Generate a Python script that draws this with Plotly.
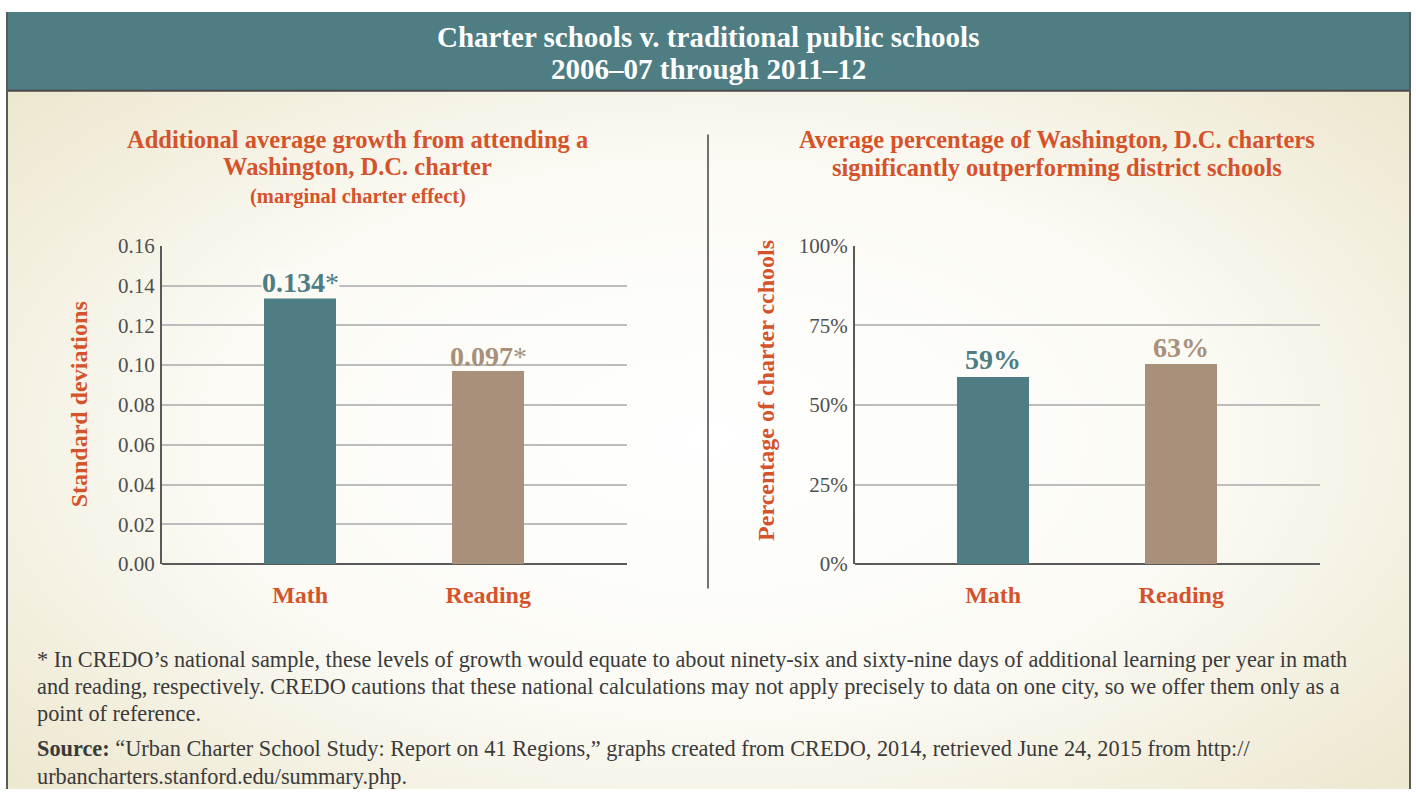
import base64
import plotly.graph_objects as go
from plotly.subplots import make_subplots

# ---- data ----
categories = ["Math", "Reading"]
growth_sd = [0.134, 0.097]            # marginal charter effect, standard deviations
growth_labels = ["0.134", "0.097"]
pct_outperforming = [59, 63]           # % of charters significantly outperforming
pct_labels = ["59%", "63%"]
sd_ticks = [0.00, 0.02, 0.04, 0.06, 0.08, 0.10, 0.12, 0.14, 0.16]
pct_ticks = [0, 25, 50, 75, 100]

# ---- style ----
W, H = 1416, 801
TEAL = "#4E7D84"
TAN = "#A8907A"
ORANGE = "#D5532B"
GRID = "#BDBDBD"
AXIS = "#5A5A5A"
TICK = "#4F4F4F"
TEXT = "#3A3A3A"
SERIF = "Liberation Serif, Times New Roman, serif"
LABEL_BG = "#FBFAF5"
bar_colors = [TEAL, TAN]

# vertical placement helper: layout positions are given in page pixels and
# converted to paper fractions (with a small correction for the page's
# vertical offset/scale when displayed)
Y_SCALE, Y_OFF = 0.9743, 10.95


def px_x(x):
    return x / W


def px_y(y):
    return 1 - ((y - Y_OFF) / Y_SCALE) / H


PLOT_TOP, PLOT_BOT = 245.7, 565.5

fig = make_subplots(rows=1, cols=2)

fig.add_trace(go.Bar(x=categories, y=growth_sd, marker=dict(color=bar_colors, line=dict(width=0)),
                     width=0.383, hoverinfo="skip"), row=1, col=1)
fig.add_trace(go.Bar(x=categories, y=pct_outperforming, marker=dict(color=bar_colors, line=dict(width=0)),
                     width=0.383, hoverinfo="skip"), row=1, col=2)

cat_range = [-0.735, 1.738]
common_x = dict(range=cat_range, showgrid=False, showline=False, ticks="",
                tickfont=dict(family=SERIF, size=24, color=ORANGE, weight="bold"),
                ticklabelstandoff=14, zeroline=False, fixedrange=True)
common_y = dict(showgrid=True, gridcolor=GRID, gridwidth=2, showline=True, linecolor=AXIS,
                linewidth=2, ticks="", tickfont=dict(family=SERIF, size=21, color=TICK),
                ticklabelstandoff=1, zeroline=True, zerolinecolor=AXIS, zerolinewidth=2,
                fixedrange=True)

fig.update_layout(
    xaxis=dict(domain=[px_x(162), px_x(627)], **common_x),
    xaxis2=dict(domain=[px_x(855), px_x(1320)], **common_x),
    yaxis=dict(domain=[px_y(PLOT_BOT), px_y(PLOT_TOP)], range=[0, 0.16], tickvals=sd_ticks,
               ticktext=[f"{v:.2f}" for v in sd_ticks], **common_y),
    yaxis2=dict(domain=[px_y(PLOT_BOT), px_y(PLOT_TOP)], range=[0, 100], tickvals=pct_ticks,
                ticktext=[f"{v}%" for v in pct_ticks], **common_y),
)

# ---- background: soft radial cream gradient ----
svg = f"""<svg xmlns='http://www.w3.org/2000/svg' width='{W}' height='{H}'>
<defs><radialGradient id='g' cx='50%' cy='55%' r='65%'>
<stop offset='0%' stop-color='#FFFFFF'/>
<stop offset='55%' stop-color='#FBFAF4'/>
<stop offset='100%' stop-color='#EDE8D0'/>
</radialGradient></defs>
<rect x='0' y='0' width='{W}' height='{H}' fill='url(#g)'/>
<rect x='0' y='0' width='7' height='{H}' fill='white'/>
<rect x='1410' y='0' width='6' height='{H}' fill='white'/>
</svg>"""
src = "data:image/svg+xml;base64," + base64.b64encode(svg.encode()).decode()
fig.add_layout_image(dict(source=src, xref="paper", yref="paper", x=0, y=1, sizex=1, sizey=1,
                          xanchor="left", yanchor="top", sizing="stretch", layer="below"))

shapes = []
# header band
shapes.append(dict(type="rect", xref="paper", yref="paper", x0=px_x(7), x1=px_x(1410),
                   y0=px_y(90), y1=1.0, fillcolor=TEAL, line=dict(width=0), layer="below"))
shapes.append(dict(type="line", xref="paper", yref="paper", x0=px_x(7), x1=px_x(1410),
                   y0=px_y(90), y1=px_y(90), line=dict(color="#4A4A4A", width=2)))
# outer frame (left and right edges)
for xe in (7, 1410):
    shapes.append(dict(type="line", xref="paper", yref="paper", x0=px_x(xe), x1=px_x(xe),
                       y0=0, y1=1, line=dict(color="#5A5A5A", width=2)))
# divider between panels
shapes.append(dict(type="line", xref="paper", yref="paper", x0=px_x(708), x1=px_x(708),
                   y0=px_y(590), y1=px_y(134), line=dict(color="#444444", width=1.5)))
fig.update_layout(shapes=shapes)

ann = []


def text(x, y, s, size, color=TEXT, bold=False, xanchor="center", **kw):
    ann.append(dict(x=px_x(x), y=px_y(y), xref="paper", yref="paper", text=s, showarrow=False,
                    xanchor=xanchor, yanchor="middle",
                    font=dict(family=SERIF, size=size, color=color, weight="bold" if bold else "normal"),
                    **kw))


# header
text(708, 36, "Charter schools v. traditional public schools", 29, "white", True)
text(708, 68, "2006–07 through 2011–12", 29, "white", True)

# panel headings
text(358, 139, "Additional average growth from attending a", 24.5, ORANGE, True)
text(358, 166, "Washington, D.C. charter", 24.5, ORANGE, True)
text(358, 196, "(marginal charter effect)", 20.5, ORANGE, True)
text(1057, 139, "Average percentage of Washington, D.C. charters", 24.5, ORANGE, True)
text(1057, 167, "significantly outperforming district schools", 24.5, ORANGE, True)

# axis titles
text(79, 405, "Standard deviations", 24, ORANGE, True, textangle=-90)
text(766, 391.5, "Percentage of charter cchools", 24, ORANGE, True, textangle=-90)

# value labels above bars; a backing patch hides a gridline that runs through the text
px_per_sd = (PLOT_BOT - PLOT_TOP) / 0.16
for cat, v, lab, col in zip(categories, growth_sd, growth_labels, bar_colors):
    band_lo, band_hi = v + 6 / px_per_sd, v + 26 / px_per_sd
    crosses_grid = any(band_lo <= t <= band_hi for t in sd_ticks)
    ann.append(dict(x=cat, y=v, xref="x", yref="y", text=f"<b>{lab}</b>*", showarrow=False,
                    yanchor="bottom", yshift=-2, borderpad=0,
                    bgcolor=LABEL_BG if crosses_grid else "rgba(0,0,0,0)",
                    font=dict(family=SERIF, size=28, color=col)))
for cat, v, lab, col in zip(categories, pct_outperforming, pct_labels, bar_colors):
    ann.append(dict(x=cat, y=v, xref="x2", yref="y2", text=f"<b>{lab}</b>", showarrow=False,
                    yanchor="bottom", yshift=-1,
                    font=dict(family=SERIF, size=28, color=col)))

# footnote and source
foot = [
    "* In CREDO’s national sample, these levels of growth would equate to about ninety-six and sixty-nine days of additional learning per year in math",
    "and reading, respectively. CREDO cautions that these national calculations may not apply precisely to data on one city, so we offer them only as a",
    "point of reference.",
]
for i, line in enumerate(foot):
    text(35, 661 + 27.5 * i, line, 22.3, TEXT, False, xanchor="left")
src_lines = [
    "<b>Source:</b> “Urban Charter School Study: Report on 41 Regions,” graphs created from CREDO, 2014, retrieved June 24, 2015 from http://",
    "urbancharters.stanford.edu/summary.php.",
]
for i, line in enumerate(src_lines):
    text(35, 751 + 28 * i, line, 22.3, TEXT, False, xanchor="left")

fig.update_layout(
    annotations=ann,
    width=W, height=H,
    margin=dict(l=0, r=0, t=0, b=0),
    paper_bgcolor="white",
    plot_bgcolor="rgba(0,0,0,0)",
    showlegend=False,
    bargap=0,
)

fig.write_html("out.html", config={"displayModeBar": False})
